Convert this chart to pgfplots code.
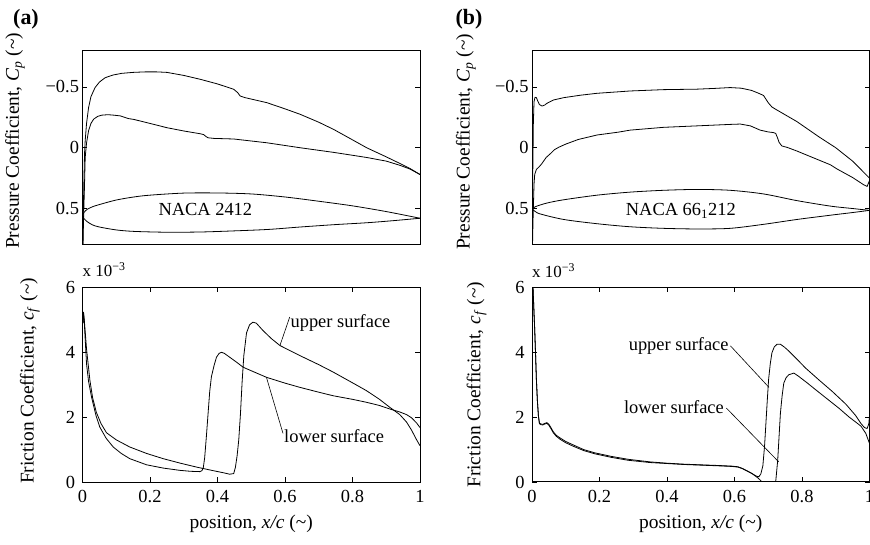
\documentclass[border=0pt]{standalone}
\usepackage{fontspec}
\setmainfont{Liberation Serif}
\usepackage{pgfplots}
\pgfplotsset{compat=1.18}

\newcommand{\tl}{\textasciitilde}

\tikzset{
  txt/.style={font=\fontsize{18.5}{22}\selectfont, inner sep=0pt},
}
\pgfplotsset{
  mystyle/.style={
    scale only axis, width=337.5bp, height=194.5bp,
    anchor=south west,
    axis line style={line width=1bp, black},
    tick align=inside, major tick length=5bp,
    tick style={line width=0.7bp, black},
    xmin=0, xmax=1,
    ticklabel style={font=\fontsize{18.5}{22}\selectfont},
    label style={font=\fontsize{19.5}{23}\selectfont},
  },
  cpaxis/.style={mystyle, y dir=reverse, ymin=-0.8, ymax=0.8,
    ytick={-0.5,0,0.5}, yticklabels={−0.5,0,0.5}, xtick=\empty,
    ylabel={Pressure Coefficient, \textit{C}\textsubscript{\textit{p}} (\tl)}},
  cfaxis/.style={mystyle, ymin=0, ymax=6,
    ytick={0,2,4,6}, yticklabels={0,2,4,6},
    yticklabel style={xshift=-4bp},
    xtick={0,0.2,0.4,0.6,0.8,1}, xticklabels={0,0.2,0.4,0.6,0.8,1},
    xticklabel style={yshift=-4.5bp},
    ylabel={Friction Coefficient, \textit{c}\textsubscript{\textit{f}} (\tl)},
    xlabel={position, \textit{x/c} (\tl)},
    xlabel style={at={(axis description cs:0.5,-0.215)}, anchor=center}},
  crv/.style={black, line width=0.8bp},
}

\begin{document}
\begin{tikzpicture}
\path[use as bounding box] (0bp,0bp) rectangle (870bp,545bp);

% ---------------- (a) Cp ----------------
\begin{axis}[cpaxis, at={(82.5bp,300bp)},
  ylabel style={at={(axis description cs:-0.2,0.536)}, anchor=center}]
\addplot[crv] coordinates {
(0.000,1.00) (0.002,0.60) (0.004,0.30) (0.006,0.05) (0.008,-0.06) (0.012,-0.20)
(0.018,-0.33) (0.025,-0.42) (0.037,-0.494) (0.050,-0.54) (0.067,-0.576) (0.090,-0.598)
(0.116,-0.612) (0.150,-0.620) (0.185,-0.624) (0.220,-0.624) (0.250,-0.620) (0.300,-0.595)
(0.349,-0.563) (0.400,-0.525) (0.448,-0.481) (0.460,-0.453) (0.467,-0.426) (0.482,-0.412)
(0.546,-0.371) (0.600,-0.32) (0.645,-0.275) (0.700,-0.21) (0.744,-0.151) (0.800,-0.065)
(0.842,0.0) (0.900,0.075) (0.941,0.13) (0.970,0.17) (1.000,0.22)};
\addplot[crv] coordinates {
(0.000,1.00) (0.003,0.60) (0.006,0.30) (0.008,0.08) (0.012,-0.04) (0.018,-0.14)
(0.025,-0.20) (0.033,-0.235) (0.045,-0.258) (0.057,-0.268) (0.075,-0.272) (0.093,-0.268)
(0.112,-0.262) (0.136,-0.24) (0.152,-0.233) (0.200,-0.20) (0.250,-0.165) (0.300,-0.138)
(0.349,-0.115) (0.359,-0.108) (0.366,-0.092) (0.372,-0.082) (0.389,-0.077) (0.448,-0.072)
(0.546,-0.041) (0.645,0.0) (0.744,0.038) (0.842,0.08) (0.900,0.11) (0.941,0.145)
(0.970,0.175) (1.000,0.22)};
% airfoil NACA 2412
\addplot[crv, smooth] coordinates {
(0,0.56) (0.005,0.53) (0.015,0.505) (0.03,0.485) (0.053,0.465) (0.1,0.43) (0.152,0.405)
(0.2,0.39) (0.3,0.373) (0.4,0.372) (0.5,0.38) (0.6,0.405) (0.7,0.44) (0.8,0.478)
(0.9,0.525) (1.0,0.58)};
\addplot[crv, smooth] coordinates {
(0,0.56) (0.005,0.585) (0.015,0.61) (0.03,0.635) (0.05,0.652) (0.1,0.676) (0.152,0.688)
(0.25,0.695) (0.35,0.693) (0.448,0.684) (0.55,0.672) (0.645,0.652) (0.75,0.632)
(0.842,0.617) (0.92,0.60) (1.0,0.58)};
\node[txt, anchor=center] at (axis cs:0.364,0.505) {NACA 2412};
\end{axis}

% ---------------- (b) Cp ----------------
\begin{axis}[cpaxis, at={(532bp,300bp)},
  ylabel style={at={(axis description cs:-0.196,0.531)}, anchor=center}]
\addplot[crv] coordinates {
(0.000,1.00) (0.002,0.30) (0.004,-0.20) (0.006,-0.38) (0.009,-0.415) (0.013,-0.412)
(0.017,-0.385) (0.022,-0.355) (0.030,-0.343) (0.038,-0.352) (0.044,-0.365) (0.064,-0.393)
(0.094,-0.412) (0.143,-0.432) (0.193,-0.448) (0.291,-0.467) (0.390,-0.478) (0.489,-0.482)
(0.540,-0.488) (0.587,-0.495) (0.620,-0.49) (0.650,-0.472) (0.670,-0.45) (0.686,-0.43)
(0.693,-0.40) (0.700,-0.37) (0.711,-0.335) (0.726,-0.31) (0.785,-0.215) (0.850,-0.09)
(0.900,0.0) (0.950,0.11) (1.000,0.25)};
\addplot[crv] coordinates {
(0.000,1.00) (0.003,0.60) (0.006,0.30) (0.008,0.22) (0.013,0.178) (0.020,0.16)
(0.028,0.135) (0.042,0.08) (0.054,0.05) (0.067,0.015) (0.080,-0.005) (0.100,-0.03)
(0.137,-0.068) (0.193,-0.105) (0.255,-0.128) (0.291,-0.145) (0.390,-0.168) (0.489,-0.18)
(0.587,-0.192) (0.617,-0.195) (0.647,-0.18) (0.676,-0.145) (0.700,-0.13) (0.715,-0.125)
(0.722,-0.118) (0.727,-0.085) (0.732,-0.045) (0.740,-0.015) (0.756,-0.003) (0.785,0.027)
(0.805,0.05) (0.884,0.14) (0.904,0.175) (0.950,0.245) (0.983,0.305) (0.993,0.318)
(1.000,0.27)};
% airfoil NACA 66-1-212
\addplot[crv, smooth] coordinates {
(0,0.505) (0.01,0.485) (0.044,0.455) (0.094,0.428) (0.193,0.39) (0.291,0.365) (0.39,0.35)
(0.489,0.343) (0.587,0.35) (0.686,0.38) (0.785,0.435) (0.884,0.48) (0.95,0.50) (1.0,0.515)};
\addplot[crv, smooth] coordinates {
(0,0.505) (0.01,0.525) (0.025,0.545) (0.094,0.59) (0.193,0.625) (0.291,0.65) (0.39,0.663)
(0.489,0.668) (0.587,0.663) (0.686,0.63) (0.785,0.59) (0.884,0.555) (0.95,0.533) (1.0,0.515)};
\node[txt, anchor=base] at (axis cs:0.441,0.557) {NACA 66\textsubscript{1}212};
\end{axis}

% ---------------- (a) cf ----------------
\begin{axis}[cfaxis, at={(82.5bp,63bp)},
  ylabel style={at={(axis description cs:-0.156,0.52)}, anchor=center}]
% upper surface
\addplot[crv] coordinates {
(0.001,4.9) (0.003,5.25) (0.006,4.9) (0.012,4.1) (0.022,3.13) (0.03,2.6) (0.041,2.15)
(0.055,1.8) (0.071,1.52) (0.1,1.3) (0.14,1.08) (0.19,0.88) (0.239,0.72) (0.29,0.58)
(0.338,0.46) (0.387,0.35) (0.42,0.28) (0.436,0.24) (0.448,0.26) (0.453,0.45) (0.458,0.8)
(0.463,1.3) (0.468,2.1) (0.473,3.1) (0.478,3.9) (0.486,4.6) (0.495,4.85) (0.505,4.93)
(0.515,4.9) (0.535,4.67) (0.56,4.42) (0.585,4.21) (0.644,3.9) (0.7,3.62) (0.743,3.39)
(0.8,3.06) (0.841,2.82) (0.88,2.55) (0.911,2.3) (0.94,2.08) (0.96,1.85) (0.975,1.6)
(0.99,1.3) (1.0,1.12)};
% lower surface
\addplot[crv] coordinates {
(0.001,4.9) (0.003,5.2) (0.005,5.0) (0.008,4.4) (0.012,3.64) (0.018,3.1) (0.027,2.61)
(0.04,2.05) (0.051,1.7) (0.07,1.35) (0.091,1.08) (0.115,0.88) (0.14,0.72) (0.19,0.53)
(0.239,0.43) (0.288,0.36) (0.32,0.33) (0.348,0.32) (0.354,0.35) (0.358,0.45) (0.362,0.75)
(0.367,1.4) (0.372,2.1) (0.377,2.8) (0.382,3.25) (0.39,3.6) (0.397,3.85) (0.405,3.97)
(0.412,4.0) (0.42,3.97) (0.436,3.85) (0.456,3.7) (0.476,3.54) (0.496,3.45) (0.545,3.23)
(0.6,3.05) (0.644,2.92) (0.7,2.77) (0.743,2.66) (0.8,2.55) (0.841,2.46) (0.88,2.36)
(0.911,2.25) (0.94,2.16) (0.96,2.08) (0.975,1.98) (0.99,1.82) (1.0,1.68)};
\draw[line width=0.6bp] (axis cs:0.614,5.09) -- (axis cs:0.585,4.21);
\node[txt, anchor=west] at (axis cs:0.616,4.9) {upper surface};
\draw[line width=0.6bp] (axis cs:0.594,1.5) -- (axis cs:0.545,3.23);
\node[txt, anchor=west] at (axis cs:0.597,1.42) {lower surface};
\end{axis}

% ---------------- (b) cf ----------------
\begin{axis}[cfaxis, at={(532bp,63bp)},
  ylabel style={at={(axis description cs:-0.164,0.5)}, anchor=center}]
% upper surface
\addplot[crv] coordinates {
(0.001,8.0) (0.003,6.0) (0.006,5.2) (0.008,4.71) (0.011,3.8) (0.013,3.16) (0.016,2.5)
(0.019,2.05) (0.022,1.82) (0.026,1.79) (0.032,1.78) (0.038,1.81) (0.044,1.83) (0.050,1.78)
(0.056,1.68) (0.063,1.55) (0.072,1.44) (0.083,1.36) (0.1,1.25) (0.123,1.14) (0.153,1.0)
(0.186,0.9) (0.235,0.79) (0.285,0.7) (0.35,0.62) (0.4,0.58) (0.45,0.55) (0.5,0.53)
(0.55,0.51) (0.592,0.49) (0.61,0.47) (0.625,0.41) (0.64,0.33) (0.655,0.24) (0.665,0.18)
(0.672,0.16) (0.678,0.25) (0.684,0.5) (0.689,1.1) (0.693,1.8) (0.697,2.5) (0.701,3.16)
(0.706,3.65) (0.711,3.99) (0.718,4.17) (0.726,4.25) (0.736,4.25) (0.748,4.16) (0.761,4.04)
(0.785,3.79) (0.81,3.52) (0.85,3.15) (0.889,2.8) (0.93,2.4) (0.959,2.05) (0.975,1.8)
(0.985,1.68) (0.993,1.65) (0.998,1.8) (1.0,2.05)};
% lower surface
\addplot[crv] coordinates {
(0.001,8.0) (0.003,6.0) (0.006,5.2) (0.008,4.71) (0.011,3.8) (0.013,3.16) (0.016,2.5)
(0.019,2.03) (0.022,1.80) (0.026,1.77) (0.032,1.76) (0.038,1.79) (0.044,1.81) (0.050,1.75)
(0.056,1.65) (0.063,1.52) (0.072,1.41) (0.083,1.32) (0.1,1.21) (0.123,1.1) (0.153,0.97)
(0.186,0.87) (0.235,0.76) (0.285,0.67) (0.35,0.6) (0.4,0.57) (0.45,0.54) (0.5,0.52)
(0.55,0.5) (0.592,0.48) (0.61,0.46) (0.622,0.42) (0.652,0.26) (0.67,0.12) (0.682,0.0)
(0.70,-0.3) (0.712,-0.35) (0.718,-0.2) (0.722,0.0) (0.728,0.67) (0.732,1.4) (0.736,2.12)
(0.741,2.65) (0.746,3.05) (0.753,3.22) (0.761,3.31) (0.776,3.36) (0.79,3.26) (0.815,3.06)
(0.84,2.85) (0.875,2.56) (0.909,2.28) (0.94,2.0) (0.959,1.85) (0.975,1.72) (0.989,1.5)
(1.0,1.19)};
\draw[line width=0.6bp] (axis cs:0.588,4.2) -- (axis cs:0.702,2.92);
\node[txt, anchor=east] at (axis cs:0.583,4.19) {upper surface};
\draw[line width=0.6bp] (axis cs:0.576,2.28) -- (axis cs:0.731,0.62);
\node[txt, anchor=east] at (axis cs:0.569,2.31) {lower surface};
\end{axis}

% panel letters and exponent labels
\node[font=\fontsize{22}{26}\selectfont\bfseries, anchor=center] at (26bp,526bp) {(a)};
\node[font=\fontsize{22}{26}\selectfont\bfseries, anchor=center] at (469bp,526bp) {(b)};
\node[font=\fontsize{17}{20}\selectfont, anchor=base west, inner sep=0pt] at (82.5bp,268bp) {x 10\textsuperscript{−3}};
\node[font=\fontsize{17}{20}\selectfont, anchor=base west, inner sep=0pt] at (532bp,267bp) {x 10\textsuperscript{−3}};
\end{tikzpicture}
\end{document}
